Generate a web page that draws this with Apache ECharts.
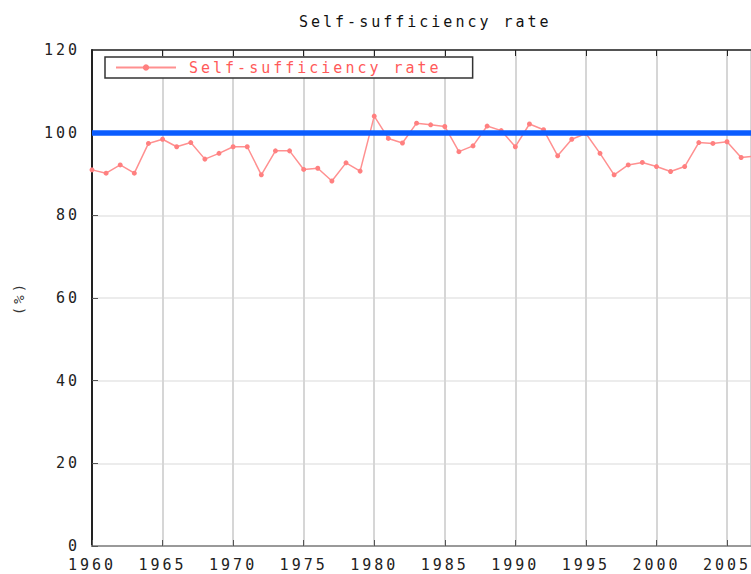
<!DOCTYPE html>
<html>
<head>
<meta charset="utf-8">
<script src="https://cdn.jsdelivr.net/npm/echarts@6/dist/echarts.min.js"></script>
<style>
  html, body { margin: 0; padding: 0; background: #fff; }
  #chart { width: 751px; height: 574px; }
  #chart text { letter-spacing: 3px; }
</style>
</head>
<body>
<div id="chart"></div>
<script>
// years 1960-2007, self-sufficiency rate (%)
var years = [1960, 1961, 1962, 1963, 1964, 1965, 1966, 1967, 1968, 1969,
             1970, 1971, 1972, 1973, 1974, 1975, 1976, 1977, 1978, 1979,
             1980, 1981, 1982, 1983, 1984, 1985, 1986, 1987, 1988, 1989,
             1990, 1991, 1992, 1993, 1994, 1995, 1996, 1997, 1998, 1999,
             2000, 2001, 2002, 2003, 2004, 2005, 2006, 2007];
var rates = [91.0, 90.2, 92.2, 90.2, 97.4, 98.4, 96.6, 97.6, 93.6, 95.0,
             96.6, 96.6, 89.8, 95.6, 95.6, 91.1, 91.4, 88.3, 92.7, 90.7,
             104.0, 98.6, 97.5, 102.3, 101.9, 101.5, 95.4, 96.8, 101.6, 100.5,
             96.6, 102.1, 100.7, 94.4, 98.4, 99.8, 95.0, 89.8, 92.2, 92.8,
             91.8, 90.6, 91.8, 97.6, 97.4, 97.8, 94.0, 94.3];
var refLine = 100;
var seriesName = 'Self-sufficiency rate';
// visible x range (the right side of the plot is cut by the picture edge)
var xMin = 1960, xMax = 2006.7;

var mono = '"DejaVu Sans Mono", monospace';
var myChart = echarts.init(document.getElementById('chart'), null, { renderer: 'svg' });

var points = years.map(function (y, i) { return [y, rates[i]]; });

var option = {
    animation: false,
    title: {
        text: 'Self-sufficiency rate',
        left: 294,
        top: 9,
        textStyle: { fontFamily: mono, fontSize: 15, fontWeight: 'normal', color: '#111' }
    },
    legend: {
        data: [seriesName],
        left: 105,
        top: 57,
        orient: 'horizontal',
        padding: [3, 94, 3, 10],
        itemWidth: 60,
        itemHeight: 8,
        borderColor: '#333',
        borderWidth: 1.5,
        borderRadius: 0,
        backgroundColor: '#fff',
        textStyle: { fontFamily: mono, fontSize: 15, color: '#ff5a5a', padding: [0, 0, 0, 8] }
    },
    grid: {
        left: 92,
        right: 0,
        top: 50,
        bottom: 28,
        show: false
    },
    xAxis: [{
        type: 'value',
        min: xMin,
        max: xMax,
        interval: 5,
        axisLine: { lineStyle: { color: '#999', width: 2 } },
        axisTick: { inside: true, length: 6, lineStyle: { color: '#555' } },
        axisLabel: {
            fontFamily: mono, fontSize: 15, color: '#222', margin: 11,
            showMaxLabel: false,
            formatter: function (v) { return String(v); }
        },
        splitLine: { lineStyle: { color: '#d6d6d6', width: 2 } }
    }, {
        type: 'value',
        position: 'top',
        min: xMin,
        max: xMax,
        interval: 5,
        axisLine: { lineStyle: { color: '#222', width: 1.5 } },
        axisTick: { inside: true, length: 6, lineStyle: { color: '#222' } },
        axisLabel: { show: false },
        splitLine: { show: false }
    }],
    yAxis: {
        type: 'value',
        min: 0,
        max: 120,
        interval: 20,
        name: '(%)',
        nameLocation: 'middle',
        nameRotate: 90,
        nameGap: 66,
        nameTextStyle: { fontFamily: mono, fontSize: 14, color: '#333' },
        axisLine: { show: true, lineStyle: { color: '#222', width: 2 } },
        axisTick: { show: true, inside: true, length: 6, lineStyle: { color: '#555' } },
        axisLabel: { fontFamily: mono, fontSize: 15, color: '#222', margin: 12 },
        splitLine: { lineStyle: { color: '#ececec', width: 2 } }
    },
    series: [{
        name: seriesName,
        type: 'line',
        data: points,
        symbol: 'circle',
        symbolSize: 5,
        lineStyle: { color: '#ff9090', width: 1.5 },
        itemStyle: { color: '#ff8080' },
        z: 2
    }, {
        name: 'ref',
        type: 'line',
        data: [],
        z: 5,
        markLine: {
            silent: true,
            symbol: ['none', 'none'],
            label: { show: false },
            lineStyle: { color: '#0a5cff', width: 5.5, type: 'solid' },
            data: [{ yAxis: refLine }]
        }
    }]
};

myChart.setOption(option);
window.addEventListener('resize', function () {
    myChart.resize();
});
</script>
</body>
</html>
